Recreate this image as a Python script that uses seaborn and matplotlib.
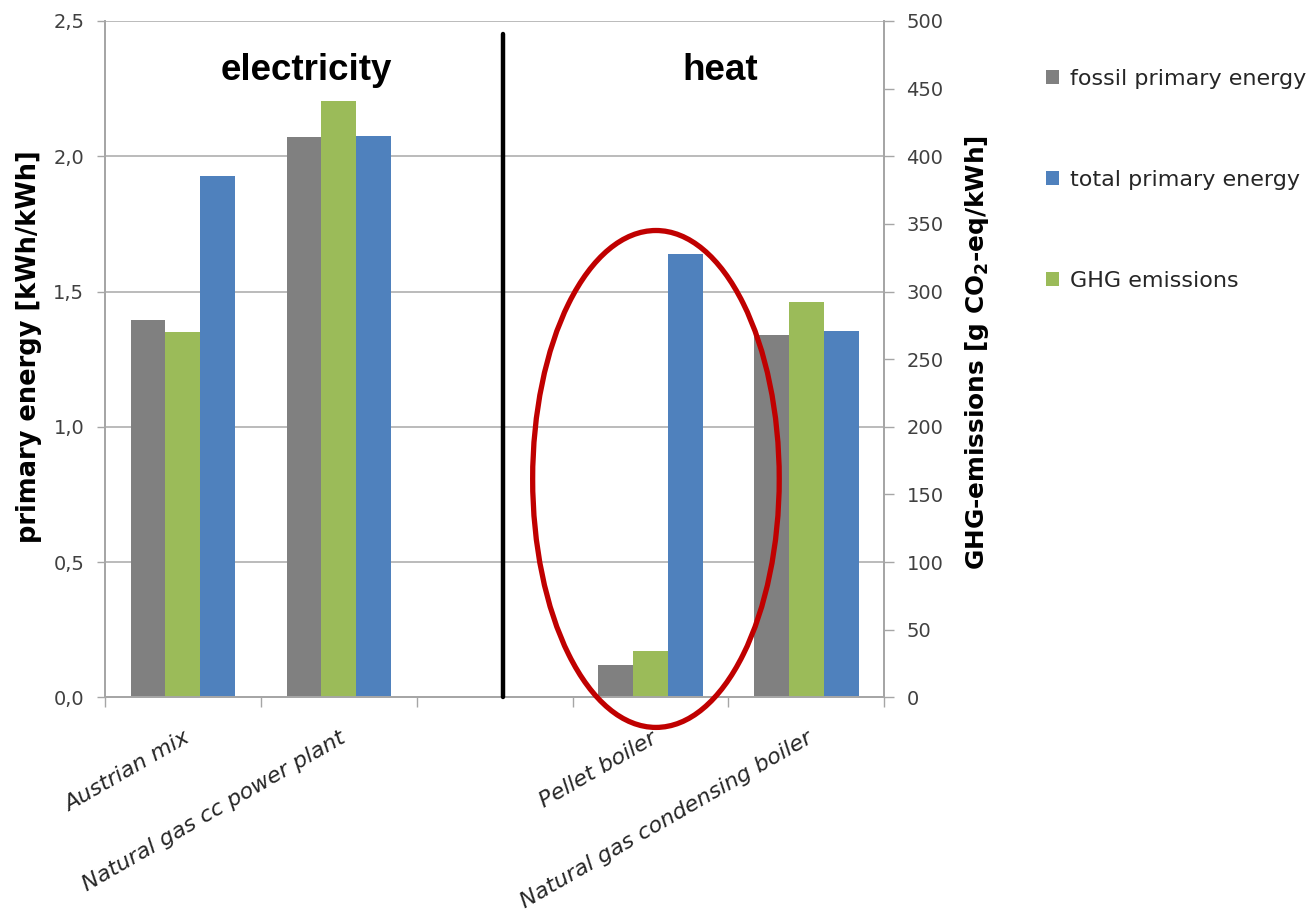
import matplotlib
matplotlib.use("Agg")
import matplotlib.pyplot as plt
from matplotlib.patches import Ellipse, Patch
from matplotlib.lines import Line2D
from matplotlib.ticker import FuncFormatter, MultipleLocator
import pandas as pd
import seaborn as sns

# Systems compared; slot 2 stays empty to separate electricity from heat
systems = ["Austrian mix", "Natural gas cc power plant",
           "Pellet boiler", "Natural gas condensing boiler"]
positions = [0, 1, 3, 4]

fossil_pe = [1.395, 2.071, 0.119, 1.341]   # kWh/kWh
total_pe = [1.928, 2.074, 1.638, 1.354]    # kWh/kWh
ghg = [270, 441, 34, 292]                  # g CO2-eq/kWh

bar_order = ["fossil primary energy", "GHG emissions", "total primary energy"]
legend_order = ["fossil primary energy", "total primary energy", "GHG emissions"]
colors = {"fossil primary energy": "#808080",
          "GHG emissions": "#9BBB59",
          "total primary energy": "#4F81BD"}

sns.set_theme(style="white")
plt.rcParams["font.family"] = ["DejaVu Sans"]

energy = pd.DataFrame({
    "pos": positions * 2,
    "series": ["fossil primary energy"] * 4 + ["total primary energy"] * 4,
    "value": fossil_pe + total_pe,
})
emissions = pd.DataFrame({
    "pos": positions,
    "series": ["GHG emissions"] * 4,
    "value": ghg,
})

fig = plt.figure(figsize=(13.12, 9.13), dpi=100)
ax1 = fig.add_axes([0.080, 0.2363, 0.594, 0.7407])
ax2 = ax1.twinx()

common = dict(x="pos", y="value", hue="series", hue_order=bar_order,
              palette=colors, native_scale=True, width=0.67, dodge=True,
              saturation=1, legend=False, linewidth=0, errorbar=None)
sns.barplot(data=energy, ax=ax1, **common)
sns.barplot(data=emissions, ax=ax2, **common)

# Axis ranges and ticks
ax1.set_xlim(-0.5, 4.5)
ax1.set_ylim(0, 2.5)
ax2.set_ylim(0, 500)
ax1.yaxis.set_major_locator(MultipleLocator(0.5))
ax2.yaxis.set_major_locator(MultipleLocator(50))
ax1.yaxis.set_major_formatter(FuncFormatter(lambda v, p: f"{v:.1f}".replace(".", ",")))
ax2.yaxis.set_major_formatter(FuncFormatter(lambda v, p: f"{v:.0f}"))

ax1.set_xticks([-0.5, 0.5, 1.5, 2.5, 3.5, 4.5])
ax1.set_xticklabels([])
ax1.set_xticks(positions, minor=True)
ax1.set_xticklabels(systems, minor=True, rotation=30, ha="right",
                    rotation_mode="anchor", fontstyle="italic", fontsize=16,
                    color="#262626")

axis_grey = "#a6a6a6"
ax1.tick_params(axis="x", which="major", bottom=True, length=7, width=1,
                color=axis_grey)
ax1.tick_params(axis="x", which="minor", bottom=True, length=0, pad=22)
ax1.tick_params(axis="y", left=True, length=6, width=1, color=axis_grey,
                labelsize=14, labelcolor="#404040", pad=9)
ax2.tick_params(axis="y", right=True, length=7, width=1, color=axis_grey,
                labelsize=14, labelcolor="#404040", pad=9)

ax1.yaxis.grid(True, color="#b5b5b5", linewidth=1.3)
ax1.set_axisbelow(True)

for ax in (ax1, ax2):
    ax.spines["top"].set_visible(False)
    for side in ("left", "right", "bottom"):
        ax.spines[side].set_color(axis_grey)
        ax.spines[side].set_linewidth(1.3)
    ax.set_xlabel("")

ax1.set_ylabel("primary energy [kWh/kWh]", fontsize=18.5, fontweight="bold",
               color="black")
ax1.yaxis.set_label_coords(-0.081, 0.518)
ax2.set_ylabel(r"GHG-emissions [g CO$_\mathbf{2}$-eq/kWh]", fontsize=17.8,
               fontweight="bold", color="black")
ax2.yaxis.set_label_coords(1.101, 0.510)

# Separator between electricity and heat, section titles, highlight ellipse
ax2.add_line(Line2D([2.053, 2.053], [0, 2.451], transform=ax1.transData,
                    color="black", linewidth=3.2, clip_on=False, zorder=5))
ax2.text(0.79, 2.281, "electricity", transform=ax1.transData, ha="center",
         va="baseline", fontsize=26.5, fontweight="bold",
         family="Liberation Sans", color="black")
ax2.text(3.447, 2.281, "heat", transform=ax1.transData, ha="center",
         va="baseline", fontsize=26.5, fontweight="bold",
         family="Liberation Sans", color="black")
ax2.add_patch(Ellipse((3.035, 0.807), 1.582, 1.837, transform=ax1.transData,
                      fill=False, edgecolor="#C00000", linewidth=3.8,
                      clip_on=False, zorder=6))

handles = [Patch(facecolor=colors[s], edgecolor="none") for s in legend_order]
fig.legend(handles, legend_order, loc="upper left",
           bbox_to_anchor=(1046 / 1312, 1 - 69 / 913), frameon=False,
           fontsize=16, handlelength=0.6, handleheight=0.6,
           handletextpad=0.5, labelspacing=3.65, borderpad=0,
           borderaxespad=0, labelcolor="#262626")

fig.savefig("out.png", dpi=100)
